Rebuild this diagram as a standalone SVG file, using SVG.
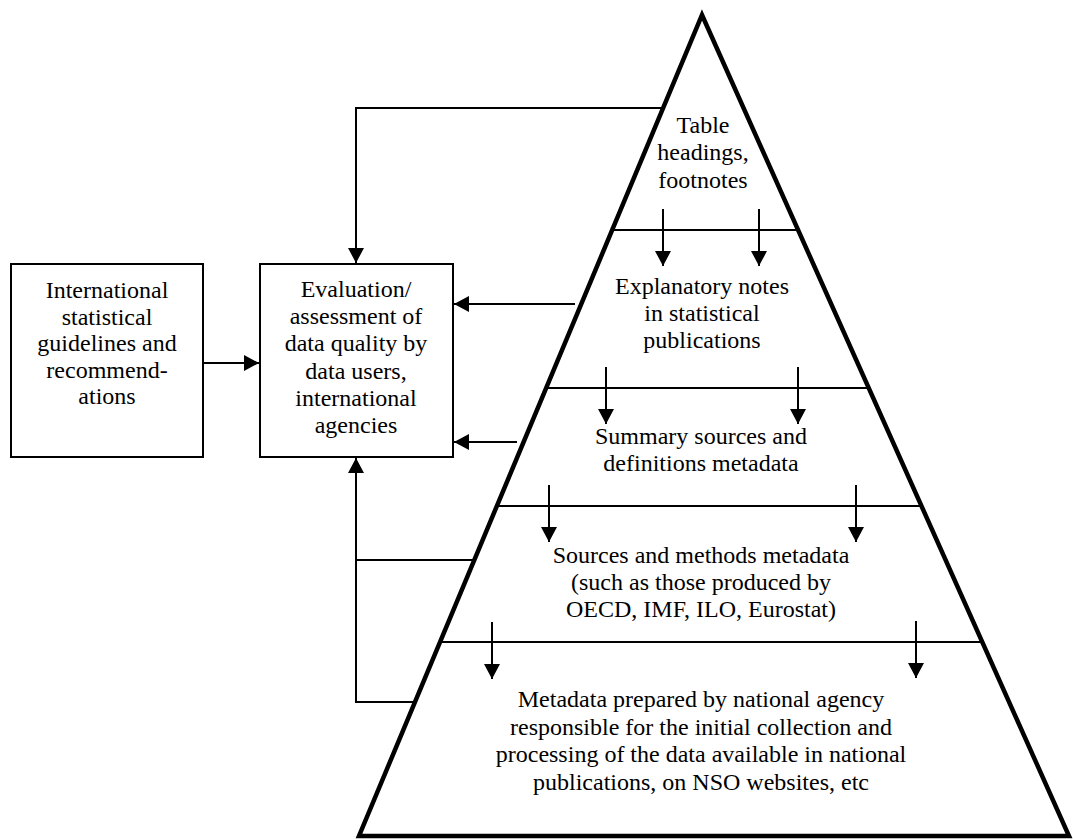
<svg xmlns="http://www.w3.org/2000/svg" width="1073" height="839" viewBox="0 0 1073 839">
<style>
text{font-family:"Liberation Serif","Times New Roman",serif;font-size:24px;fill:#000;text-anchor:middle}
.box{fill:#fff;stroke:#000;stroke-width:2}
.tri{fill:#fff;stroke:#000;stroke-width:4.5;stroke-linejoin:miter}
.sep{stroke:#000;stroke-width:2;fill:none}
.c{stroke:#000;stroke-width:2;fill:none}
.a{stroke:#000;stroke-width:2;fill:none;marker-end:url(#ah)}
</style>
<defs>
<marker id="ah" viewBox="0 0 15 16" refX="15" refY="8" markerWidth="15" markerHeight="16" orient="auto" markerUnits="userSpaceOnUse">
<path d="M0,0 L15,8 L0,16 z" fill="#000"/>
</marker>
</defs>
<rect width="1073" height="839" fill="#fff"/>
<g id="pyramid">
<polygon class="tri" points="702,15 1069,836 359,836"/>
<line class="sep" x1="612" y1="230" x2="798" y2="230"/>
<line class="sep" x1="546" y1="388" x2="869" y2="388"/>
<line class="sep" x1="496" y1="506" x2="921" y2="506"/>
<line class="sep" x1="439" y1="642" x2="982" y2="642"/>
</g>
<g id="tier-table-headings">
<text x="703" y="133">Table</text>
<text x="703" y="160">headings,</text>
<text x="703" y="188">footnotes</text>
</g>
<g id="tier-explanatory-notes">
<text x="702" y="294">Explanatory notes</text>
<text x="702" y="321">in statistical</text>
<text x="702" y="348">publications</text>
</g>
<g id="tier-summary-sources">
<text x="701" y="444">Summary sources and</text>
<text x="701" y="471">definitions metadata</text>
</g>
<g id="tier-sources-methods">
<text x="701" y="563">Sources and methods metadata</text>
<text x="701" y="590">(such as those produced by</text>
<text x="701" y="617">OECD, IMF, ILO, Eurostat)</text>
</g>
<g id="tier-national-metadata">
<text x="701" y="707">Metadata prepared by national agency</text>
<text x="701" y="735">responsible for the initial collection and</text>
<text x="701" y="762">processing of the data available in national</text>
<text x="701" y="790">publications, on NSO websites, etc</text>
</g>
<g id="box-guidelines">
<rect class="box" x="11" y="264" width="192" height="193"/>
<text x="107" y="298">International</text>
<text x="107" y="325">statistical</text>
<text x="107" y="351">guidelines and</text>
<text x="107" y="378">recommend-</text>
<text x="107" y="404">ations</text>
</g>
<g id="box-evaluation">
<rect class="box" x="260" y="264" width="193" height="193"/>
<text x="356" y="297">Evaluation/</text>
<text x="356" y="324">assessment of</text>
<text x="356" y="351">data quality by</text>
<text x="356" y="379">data users,</text>
<text x="356" y="406">international</text>
<text x="356" y="433">agencies</text>
</g>
<g id="connectors">
<path class="a" d="M663,108 H356 V263"/>
<path class="a" d="M203,363 H259"/>
<path class="a" d="M575,304 H454"/>
<path class="a" d="M517,442 H454"/>
<path class="a" d="M416,702 H356 V458"/>
<path class="c" d="M474,560 H356"/>
<path class="a" d="M663,209 V266"/>
<path class="a" d="M759,209 V266"/>
<path class="a" d="M606,367 V424"/>
<path class="a" d="M798,367 V424"/>
<path class="a" d="M549,485 V542"/>
<path class="a" d="M856,485 V542"/>
<path class="a" d="M492,622 V679"/>
<path class="a" d="M916,621 V678"/>
</g>
</svg>
